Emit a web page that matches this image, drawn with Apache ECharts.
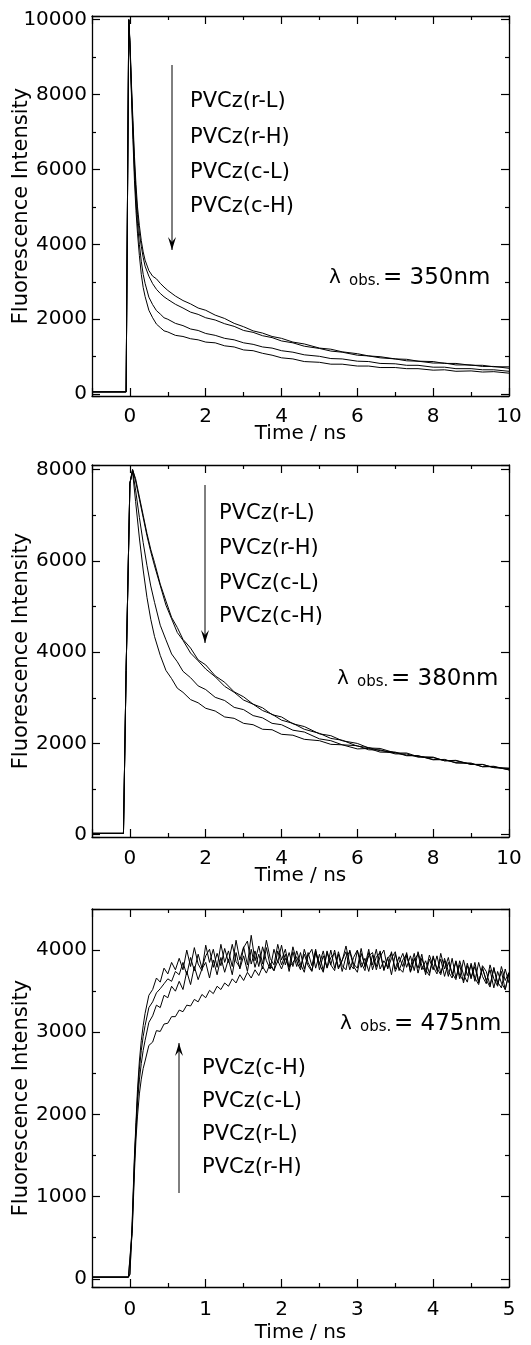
<!DOCTYPE html>
<html lang="en">
<head>
  <meta charset="utf-8" />
  <script src="https://cdn.jsdelivr.net/npm/echarts@6.0.0/dist/echarts.min.js"></script>
</head>
<body style="margin: 0; background: #fff">
  <div id="container" style="width: 531px; height: 1345px"></div>

  <script type="text/javascript">
    // ---- data (time in ns, intensity in counts) ----
    var time350 = [-1, -0.1, -0.03, 0, 0.04, 0.08, 0.12, 0.16, 0.2, 0.25,
      0.3, 0.35, 0.4, 0.5, 0.6, 0.7, 0.8, 0.9, 1.0, 1.2,
      1.4, 1.6, 1.8, 2.0, 2.25, 2.5, 2.75, 3.0, 3.25, 3.5,
      3.75, 4.0, 4.3, 4.6, 5.0, 5.3, 5.6, 6.0, 6.3, 6.6,
      7.0, 7.3, 7.6, 8.0, 8.3, 8.6, 9.0, 9.3, 9.6, 10.0];
    var rL350 = [60, 60, 10000, 9450, 8300, 7300, 6350, 5600, 5000, 4500,
      4100, 3800, 3580, 3300, 3150, 3080, 2960, 2860, 2770, 2620,
      2500, 2410, 2300, 2240, 2110, 2020, 1890, 1800, 1690, 1630,
      1540, 1490, 1390, 1340, 1230, 1200, 1130, 1080, 1020, 1000,
      940, 930, 880, 870, 820, 820, 770, 770, 730, 730];
    var rH350 = [60, 60, 10000, 9400, 8200, 7150, 6150, 5400, 4800, 4300,
      3950, 3650, 3420, 3150, 2950, 2800, 2690, 2600, 2530, 2400,
      2300, 2190, 2130, 2040, 1980, 1880, 1810, 1700, 1650, 1560,
      1510, 1420, 1370, 1280, 1220, 1150, 1120, 1040, 1020, 970,
      940, 890, 880, 830, 830, 780, 780, 740, 740, 690];
    var cL350 = [60, 60, 10000, 9350, 8100, 7000, 5950, 5150, 4550, 4000,
      3550, 3200, 2960, 2590, 2390, 2230, 2140, 2040, 2000, 1890,
      1830, 1740, 1700, 1620, 1570, 1490, 1450, 1370, 1330, 1260,
      1230, 1160, 1120, 1050, 1010, 950, 940, 880, 870, 820,
      810, 770, 770, 720, 720, 680, 680, 650, 650, 610];
    var cH350 = [60, 60, 10000, 9300, 8000, 6800, 5700, 4900, 4300, 3700,
      3200, 2850, 2610, 2240, 2040, 1870, 1780, 1690, 1660, 1570,
      1540, 1480, 1450, 1390, 1370, 1290, 1260, 1180, 1160, 1090,
      1040, 970, 940, 870, 850, 800, 800, 750, 750, 710,
      710, 680, 680, 640, 650, 610, 620, 590, 600, 560];

    var time380 = [-1, -0.17, -0.1, 0, 0.07, 0.15, 0.25, 0.35, 0.45, 0.55,
      0.65, 0.8, 0.95, 1.1, 1.25, 1.4, 1.6, 1.8, 2.0, 2.25,
      2.5, 2.75, 3.0, 3.25, 3.5, 3.75, 4.0, 4.3, 4.6, 5.0,
      5.3, 5.6, 6.0, 6.3, 6.6, 7.0, 7.3, 7.6, 8.0, 8.3,
      8.6, 9.0, 9.3, 9.6, 10.0];
    var rL380 = [30, 30, 3600, 7700, 8000, 7800, 7400, 7000, 6600, 6250,
      5960, 5490, 5120, 4760, 4540, 4280, 4090, 3830, 3720, 3480,
      3340, 3130, 3020, 2860, 2780, 2630, 2580, 2430, 2370, 2210,
      2170, 2060, 2000, 1900, 1890, 1790, 1790, 1710, 1700, 1620,
      1630, 1540, 1540, 1470, 1450];
    var rH380 = [30, 30, 3600, 7700, 8000, 7750, 7350, 6950, 6550, 6200,
      5890, 5460, 5030, 4730, 4430, 4260, 3980, 3810, 3630, 3460,
      3250, 3120, 2950, 2860, 2720, 2640, 2510, 2440, 2310, 2220,
      2110, 2070, 1940, 1910, 1840, 1810, 1740, 1730, 1650, 1640,
      1580, 1560, 1490, 1490, 1420];
    var cL380 = [30, 30, 3600, 7700, 7980, 7550, 6950, 6400, 5900, 5450,
      5090, 4590, 4270, 3960, 3790, 3580, 3440, 3260, 3180, 3010,
      2940, 2790, 2740, 2610, 2560, 2440, 2410, 2290, 2250, 2100,
      2060, 1970, 1950, 1860, 1860, 1770, 1770, 1700, 1690, 1620,
      1620, 1540, 1540, 1470, 1460];
    var cH380 = [30, 30, 3600, 7700, 7950, 7300, 6500, 5800, 5200, 4720,
      4340, 3930, 3600, 3420, 3210, 3120, 2960, 2890, 2770, 2710,
      2580, 2550, 2440, 2410, 2310, 2300, 2200, 2180, 2090, 2060,
      1980, 1970, 1880, 1890, 1810, 1800, 1730, 1730, 1640, 1650,
      1570, 1570, 1490, 1500, 1420];

    var time475 = [-0.5, -0.02, 0, 0.03, 0.06, 0.08, 0.1, 0.125, 0.15, 0.175,
      0.2, 0.25, 0.3, 0.35, 0.4, 0.45, 0.5, 0.55, 0.6, 0.65,
      0.7, 0.75, 0.8, 0.85, 0.9, 0.95, 1.0, 1.05, 1.1, 1.15,
      1.2, 1.25, 1.3, 1.35, 1.4, 1.45, 1.5, 1.55, 1.6, 1.65,
      1.7, 1.75, 1.8, 1.85, 1.9, 1.95, 2.0, 2.05, 2.1, 2.15,
      2.2, 2.25, 2.3, 2.35, 2.4, 2.45, 2.5, 2.55, 2.6, 2.65,
      2.7, 2.75, 2.8, 2.85, 2.9, 2.95, 3.0, 3.05, 3.1, 3.15,
      3.2, 3.25, 3.3, 3.35, 3.4, 3.45, 3.5, 3.55, 3.6, 3.65,
      3.7, 3.75, 3.8, 3.85, 3.9, 3.95, 4.0, 4.05, 4.1, 4.15,
      4.2, 4.25, 4.3, 4.35, 4.4, 4.45, 4.5, 4.55, 4.6, 4.65,
      4.7, 4.75, 4.8, 4.85, 4.9, 4.95, 5.0];
    var cH475 = [20, 20, 60, 700, 1500, 1900, 2300, 2650, 2900, 3080,
      3230, 3450, 3520, 3660, 3610, 3780, 3710, 3850, 3760, 3900,
      3760, 4000, 3800, 4030, 3830, 3750, 4060, 3850, 4010, 3790,
      4070, 3850, 3990, 3800, 4120, 3880, 4040, 3820, 4180, 3870,
      4050, 3830, 4120, 3900, 3820, 4070, 3880, 4010, 3790, 4040,
      3860, 3760, 4010, 3850, 3750, 3990, 3830, 3730, 3970, 3820,
      4000, 3790, 3870, 4050, 3830, 3770, 3990, 3850, 3750, 3970,
      3820, 4010, 3770, 3870, 3790, 3980, 3740, 3850, 3960, 3790,
      3930, 3750, 3980, 3810, 3730, 3940, 3800, 3710, 3960, 3770,
      3910, 3700, 3860, 3650, 3880, 3690, 3820, 3620, 3850, 3680,
      3590, 3820, 3650, 3560, 3800, 3630, 3730];
    var cL475 = [20, 20, 50, 650, 1450, 1850, 2220, 2550, 2780, 2950,
      3080, 3300, 3370, 3480, 3530, 3590, 3650, 3620, 3740, 3700,
      3850, 3700, 3910, 3750, 3950, 3780, 3930, 4010, 3790, 3960,
      3810, 4020, 3850, 4070, 3860, 3790, 4030, 4110, 3830, 3990,
      3800, 4040, 3870, 3770, 4010, 3850, 4060, 3820, 3970, 3800,
      3990, 3830, 3730, 3970, 3810, 4010, 3760, 3930, 3790, 4000,
      3780, 3950, 3740, 3920, 3980, 3800, 3730, 3960, 3810, 4010,
      3760, 3920, 3970, 3750, 3910, 3700, 3950, 3780, 3730, 3930,
      3790, 3960, 3720, 3900, 3760, 3690, 3930, 3750, 3890, 3680,
      3850, 3720, 3640, 3870, 3700, 3610, 3840, 3660, 3580, 3810,
      3740, 3570, 3780, 3610, 3540, 3770, 3600];
    var rL475 = [20, 20, 40, 600, 1400, 1800, 2150, 2420, 2620, 2780,
      2900, 3120, 3200, 3330, 3300, 3450, 3420, 3560, 3500, 3620,
      3520, 3740, 3580, 3800, 3640, 3770, 3850, 3660, 3880, 3700,
      3910, 3730, 3890, 3700, 3970, 3770, 3930, 3740, 4010, 3790,
      3950, 3770, 4030, 3810, 3750, 3990, 3820, 3950, 3740, 3980,
      3800, 3970, 3770, 3930, 4010, 3780, 3950, 3750, 3990, 3820,
      3750, 3980, 3810, 3760, 4000, 3830, 3780, 4020, 3790, 3930,
      3970, 3760, 3920, 4000, 3770, 3900, 3980, 3750, 3880, 3950,
      3740, 3900, 3780, 3950, 3700, 3890, 3760, 3930, 3720, 3870,
      3680, 3900, 3660, 3820, 3600, 3810, 3650, 3850, 3620, 3770,
      3640, 3550, 3790, 3580, 3740, 3520, 3720];
    var rH475 = [20, 20, 30, 550, 1300, 1700, 1980, 2250, 2430, 2560,
      2650, 2840, 2880, 3020, 3010, 3100, 3110, 3190, 3190, 3270,
      3250, 3330, 3320, 3400, 3370, 3460, 3420, 3510, 3470, 3560,
      3520, 3600, 3560, 3650, 3600, 3700, 3630, 3730, 3660, 3760,
      3690, 3800, 3720, 3840, 3750, 3870, 3770, 3900, 3790, 3850,
      3920, 3790, 3950, 3810, 3740, 3960, 3830, 3990, 3780, 3910,
      3960, 3770, 3880, 3980, 3760, 3910, 4000, 3790, 3900, 3740,
      3940, 3800, 3990, 3760, 3900, 3960, 3770, 3920, 3800, 3970,
      3730, 3880, 3950, 3760, 3870, 3720, 3910, 3780, 3700, 3900,
      3740, 3660, 3870, 3690, 3630, 3840, 3670, 3800, 3600, 3790,
      3620, 3760, 3540, 3740, 3600, 3520, 3720];

    var labels350 = ["PVCz(r-L)", "PVCz(r-H)", "PVCz(c-L)", "PVCz(c-H)"];
    var labels380 = ["PVCz(r-L)", "PVCz(r-H)", "PVCz(c-L)", "PVCz(c-H)"];
    var labels475 = ["PVCz(c-H)", "PVCz(c-L)", "PVCz(r-L)", "PVCz(r-H)"];
    var wavelengths = ["350nm", "380nm", "475nm"];

    // ---- layout ----
    var FONT = '"DejaVu Sans", sans-serif';
    var panels = [
      { time: time350, curves: [rL350, rH350, cL350, cH350],
        xMin: -1, xMax: 10, yMin: -50, yMax: 10100,
        top: 16, height: 380, labelMargin: 11, nameGap: 28 },
      { time: time380, curves: [rL380, rH380, cL380, cH380],
        xMin: -1, xMax: 10, yMin: -50, yMax: 8100,
        top: 465, height: 372, labelMargin: 12, nameGap: 29 },
      { time: time475, curves: [cH475, cL475, rL475, rH475],
        xMin: -0.5, xMax: 5, yMin: -100, yMax: 4500,
        top: 909, height: 378, labelMargin: 13, nameGap: 36 }
    ];

    var black = "#000";
    var tickStyle = { color: black, width: 1.2 };
    function plain(v) { return String(v); }

    function xAxisPair(i, p) {
      var base = {
        gridIndex: i, type: "value", min: p.xMin, max: p.xMax,
        axisLine: { show: true, onZero: false, lineStyle: { color: black, width: 1.3 } },
        axisTick: { show: true, inside: true, length: 8, lineStyle: tickStyle },
        minorTick: { show: true, splitNumber: 2, length: 4, lineStyle: tickStyle },
        splitLine: { show: false }
      };
      var bottom = Object.assign({}, base, {
        position: "bottom",
        name: "Time / ns", nameLocation: "middle", nameGap: p.nameGap, nameMoveOverlap: false,
        nameTextStyle: { fontFamily: FONT, fontSize: 20, color: black },
        axisLabel: { fontFamily: FONT, fontSize: 20, color: black, margin: p.labelMargin,
          showMinLabel: false, showMaxLabel: true, formatter: plain }
      });
      var top = Object.assign({}, base, { position: "top", axisLabel: { show: false } });
      return [bottom, top];
    }

    function yAxisPair(i, p) {
      var base = {
        gridIndex: i, type: "value", min: p.yMin, max: p.yMax,
        axisLine: { show: true, onZero: false, lineStyle: { color: black, width: 1.3 } },
        axisTick: { show: true, inside: true, length: 8, lineStyle: tickStyle },
        minorTick: { show: true, splitNumber: 2, length: 4, lineStyle: tickStyle },
        splitLine: { show: false }
      };
      var left = Object.assign({}, base, {
        position: "left",
        name: "Fluorescence Intensity", nameLocation: "middle", nameGap: 60, nameMoveOverlap: false,
        nameTextStyle: { fontFamily: FONT, fontSize: 21, color: black },
        axisLabel: { fontFamily: FONT, fontSize: 20, color: black, margin: 5,
          showMinLabel: false, showMaxLabel: false, formatter: plain }
      });
      var right = Object.assign({}, base, { position: "right", axisLabel: { show: false } });
      return [left, right];
    }

    var grids = [], xAxes = [], yAxes = [], series = [];
    panels.forEach(function (p, i) {
      grids.push({ left: 92, width: 417, top: p.top, height: p.height,
        containLabel: false, outerBoundsMode: "none" });
      xAxes = xAxes.concat(xAxisPair(i, p));
      yAxes = yAxes.concat(yAxisPair(i, p));
      p.curves.forEach(function (vals) {
        series.push({
          type: "line",
          xAxisIndex: i * 2,
          yAxisIndex: i * 2,
          data: p.time.map(function (t, k) { return [t, vals[k]]; }),
          symbol: "none",
          lineStyle: { color: black, width: 1 },
          clip: true
        });
      });
    });

    // ---- annotations ----
    var graphics = [];
    function addLabels(list, x, ys) {
      list.forEach(function (txt, k) {
        graphics.push({ type: "text", x: x, y: ys[k],
          style: { text: txt, font: '21px "DejaVu Sans"', fill: black, verticalAlign: "middle" } });
      });
    }
    function addArrow(x, y0, y1) {
      var d = y1 > y0 ? 1 : -1;
      graphics.push({ type: "line", shape: { x1: x, y1: y0, x2: x, y2: y1 },
        style: { stroke: black, lineWidth: 1 } });
      graphics.push({ type: "polygon",
        shape: { points: [[x - 4, y1 - 13 * d], [x, y1], [x + 4, y1 - 13 * d], [x, y1 - 8 * d]] },
        style: { fill: black } });
    }
    function addLambda(x, y, wl) {
      graphics.push({ type: "text", x: x, y: y,
        style: { text: "\u03bb", font: '20px "DejaVu Sans"', fill: black, verticalAlign: "middle" } });
      graphics.push({ type: "text", x: x + 20, y: y + 3,
        style: { text: "obs.", font: '15px "DejaVu Sans"', fill: black, verticalAlign: "middle" } });
      graphics.push({ type: "text", x: x + 54, y: y,
        style: { text: "= " + wl, font: '23px "DejaVu Sans"', fill: black, verticalAlign: "middle" } });
    }

    addLabels(labels350, 190, [102, 138, 173, 207]);
    addArrow(172, 65, 250);
    addLambda(329, 278, wavelengths[0]);

    addLabels(labels380, 219, [514, 549, 584, 617]);
    addArrow(205, 485, 643);
    addLambda(337, 679, wavelengths[1]);

    addLabels(labels475, 202, [1069, 1102, 1135, 1168]);
    addArrow(179, 1193, 1043);
    addLambda(340, 1024, wavelengths[2]);

    var dom = document.getElementById("container");
    var myChart = echarts.init(dom, null, { renderer: "canvas" });
    var option = {
      animation: false,
      backgroundColor: "#fff",
      grid: grids,
      xAxis: xAxes,
      yAxis: yAxes,
      series: series,
      graphic: graphics
    };
    myChart.setOption(option);
  </script>
</body>
</html>
